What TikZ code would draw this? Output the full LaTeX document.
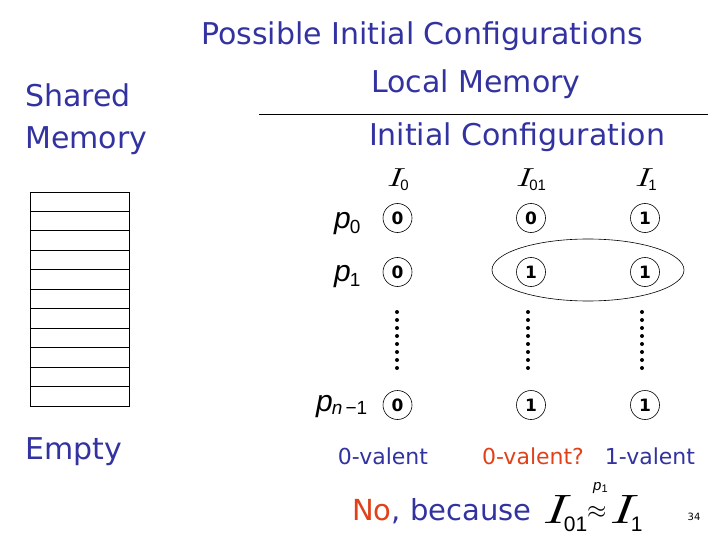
\documentclass[tikz,border=0pt]{standalone}
\usepackage{graphicx}
\usepackage{fontspec}
\setmainfont{DejaVu Sans}
\newfontfamily\pfont{Liberation Sans}
\newfontfamily\ifont{Latin Modern Roman}
\definecolor{tblue}{RGB}{50,50,160}
\definecolor{torange}{RGB}{225,65,25}
\newcommand\Ilab[4]{\scalebox{1.5}[1]{\ifont\itshape\fontsize{#1}{#1}\selectfont I}\kern-0.5pt{\pfont\fontsize{#2}{#2}\selectfont\raisebox{#3}{#4}}}
\begin{document}
\begin{tikzpicture}[x=1pt,y=-1pt,
  big/.style={text=tblue,font=\fontsize{30}{34}\selectfont,inner sep=0pt},
  small/.style={font=\fontsize{22}{26}\selectfont,inner sep=0pt},
  cell/.style={draw,line width=0.9pt,minimum width=99pt,minimum height=19.45pt,outer sep=0pt,inner sep=0pt},
  val/.style={draw,circle,line width=0.6pt,minimum size=29pt,inner sep=0pt,font=\fontsize{17}{19}\selectfont\bfseries},
  plbl/.style={font=\fontsize{30}{34}\selectfont\pfont\itshape,inner sep=0pt,anchor=base west}]
\useasboundingbox (0,0) rectangle (720,540);
% titles
\node[big] (title) at (422,36) {Possible Initial Configurations};
\node[big] (local) at (476,84) {Local Memory};
\coordinate (l1) at (259,114);
\coordinate (l2) at (708,114);
\draw[line width=0.8pt] (l1) -- (l2);
\node[big] (initc) at (517,137) {Initial Configuration};
\node[big,anchor=west] (shared) at (25,95) {Shared};
\node[big,anchor=west] (memory) at (25,141) {Memory};
\node[big,anchor=west] (empty) at (25,452) {Empty};
% memory stack
\foreach \i in {0,...,10}
  \node[cell] (m\i) at (79.5,{192+19.45*\i+9.725}) {};
% column labels
\node[inner sep=0pt,anchor=base west] (I0) at (386,187) {\Ilab{26}{15}{-4pt}{0}};
\node[inner sep=0pt,anchor=base west] (I01) at (515,187) {\Ilab{26}{15}{-4pt}{01}};
\node[inner sep=0pt,anchor=base west] (I1) at (634,187) {\Ilab{26}{15}{-4pt}{1}};
% row labels
\node[plbl] (p0) at (334,229) {p\kern-1pt{\upshape\fontsize{19}{19}\selectfont\raisebox{-5pt}{0}}};
\node[plbl] (p1) at (334,281) {p\kern-1pt{\upshape\fontsize{19}{19}\selectfont\raisebox{-5pt}{1}}};
\node[plbl] (pn) at (316,411) {p\kern-1pt{\fontsize{19}{19}\selectfont\raisebox{-3pt}{n\upshape\,\textminus1}}};
% values
\node[val] (c00) at (397.5,218) {0};
\node[val] (c01) at (397.5,272) {0};
\node[val] (c0n) at (397.5,405) {0};
\node[val] (c10) at (531,218) {0};
\node[val] (c11) at (531,272) {1};
\node[val] (c1n) at (531,405) {1};
\node[val] (c20) at (645,218) {1};
\node[val] (c21) at (645,272) {1};
\node[val] (c2n) at (645,405) {1};
\draw[line width=0.6pt] (588,270) ellipse [x radius=96, y radius=31];
% dots
\foreach \x in {397,528,642}
  \foreach \k in {0,...,7}
    \fill ({\x},{312+8*\k}) circle (2pt);
% valency labels
\node[small,text=tblue] (v0) at (383,456) {0-valent};
\node[small,text=torange] (v01) at (533,456) {0-valent?};
\node[small,text=tblue] (v1) at (650,456) {1-valent};
% bottom
\node[font=\fontsize{29}{33}\selectfont,inner sep=0pt,anchor=base west] (no) at (352,520) {\textcolor{torange}{No}\textcolor{tblue}{, because}};
\node[inner sep=0pt,anchor=base west] (eqa) at (541,523) {\Ilab{41}{21}{-8pt}{01}};
\node[inner sep=0pt,anchor=base west] (approx) at (587,518) {\fontsize{26}{26}\selectfont$\approx$};
\node[inner sep=0pt,anchor=base west,font=\fontsize{15}{15}\selectfont\pfont\itshape] (pa) at (593,490) {p{\upshape\fontsize{11}{11}\selectfont\raisebox{-2.5pt}{1}}};
\node[inner sep=0pt,anchor=base west] (eqb) at (608,523) {\Ilab{41}{21}{-8pt}{1}};
\node[font=\fontsize{10}{12}\selectfont,inner sep=0pt] (pg) at (694,517) {34};
\end{tikzpicture}
\end{document}
